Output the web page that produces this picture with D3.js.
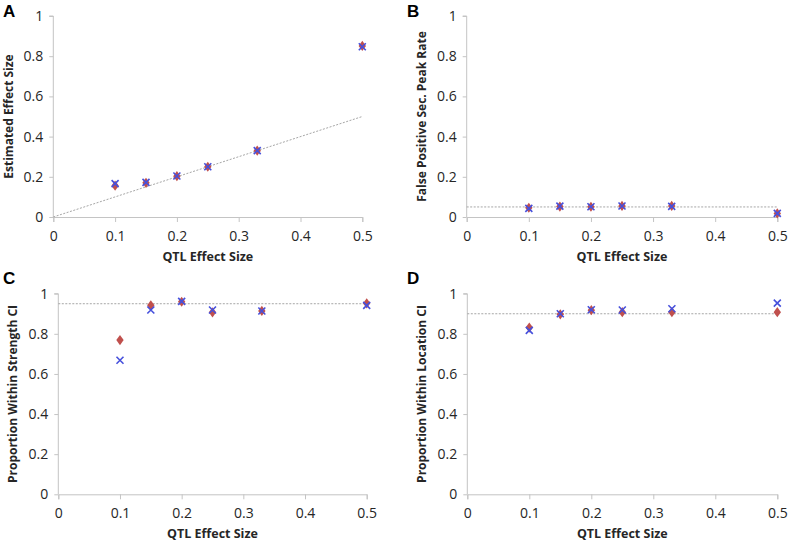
<!DOCTYPE html>
<html><head><meta charset="utf-8">
<script src="https://cdn.jsdelivr.net/npm/d3@7/dist/d3.min.js"></script>
<style>body{margin:0;background:#fff}svg{display:block}</style>
</head><body><svg id="c" width="788" height="542"></svg>
<script>
const qtl = [0.1, 0.15, 0.2, 0.25, 0.33, 0.5];
const xTicks = [0, 0.1, 0.2, 0.3, 0.4, 0.5];
const yTicks = [0, 0.2, 0.4, 0.6, 0.8, 1];
// Panel A: Estimated effect size
const estRed = [0.156, 0.170, 0.203, 0.250, 0.330, 0.851];
const estBlue = [0.166, 0.172, 0.204, 0.250, 0.330, 0.847];
// Panel B: false positive secondary peak rate
const fpRed = [0.046, 0.052, 0.051, 0.055, 0.055, 0.018];
const fpBlue = [0.043, 0.054, 0.051, 0.055, 0.053, 0.018];
// Panel C: proportion within strength CI
const strRed = [0.769, 0.942, 0.960, 0.907, 0.914, 0.952];
const strBlue = [0.668, 0.919, 0.962, 0.919, 0.914, 0.942];
// Panel D: proportion within location CI
const locRed = [0.831, 0.897, 0.918, 0.908, 0.908, 0.908];
const locBlue = [0.817, 0.900, 0.920, 0.919, 0.925, 0.953];

const panels = [
  {letter:"A", ytitle:"Estimated Effect Size", red:estRed, blue:estBlue, ref:"diag",
   l:53.3, r:362.3, t:16, b:217, lx:3, ly:17, tx:9},
  {letter:"B", ytitle:"False Positive Sec. Peak Rate", red:fpRed, blue:fpBlue, ref:0.05,
   l:466.7, r:777.3, t:16, b:217, lx:407, ly:17, tx:422},
  {letter:"C", ytitle:"Proportion Within Strength CI", red:strRed, blue:strBlue, ref:0.95,
   l:58.3, r:366.7, t:293.7, b:494.3, lx:3, ly:284, tx:13},
  {letter:"D", ytitle:"Proportion Within Location CI", red:locRed, blue:locBlue, ref:0.9,
   l:467.3, r:777.3, t:293.7, b:494.3, lx:407, ly:284, tx:422}
];

const svg = d3.select("#c");
const font = "'Open Sans', sans-serif";
const axisCol = "#c4c4c4";
const redCol = "#c0504d";
const blueCol = "#4650dc";

panels.forEach(p => {
  const x = d3.scaleLinear().domain([0, 0.5]).range([p.l, p.r]);
  const y = d3.scaleLinear().domain([0, 1]).range([p.b, p.t]);
  const g = svg.append("g");

  const ya = g.append("g").attr("transform", `translate(${p.l},0)`)
    .call(d3.axisLeft(y).tickValues(yTicks).tickSize(4).tickPadding(6).tickFormat(d => d3.format("")(d)));
  const xa = g.append("g").attr("transform", `translate(0,${p.b})`)
    .call(d3.axisBottom(x).tickValues(xTicks).tickSize(5).tickPadding(9).tickFormat(d => d3.format("")(d)));
  [ya, xa].forEach(a => {
    a.select(".domain").attr("stroke", axisCol);
    a.selectAll(".tick line").attr("stroke", axisCol);
    a.selectAll(".tick text").attr("fill", "#262626").attr("font-family", font).attr("font-size", 14);
  });
  ya.select(".domain").attr("d", `M-4,${p.t}H0V${p.b}`);

  const refY0 = p.ref === "diag" ? 0 : p.ref;
  const refY1 = p.ref === "diag" ? 0.5 : p.ref;
  g.append("line").attr("x1", x(0)).attr("y1", y(refY0)).attr("x2", x(0.5)).attr("y2", y(refY1))
    .attr("stroke", "#a6a6a6").attr("stroke-dasharray", "2,1.5").attr("stroke-width", 1);

  g.selectAll(".dia").data(qtl.map((q, i) => [q, p.red[i]])).enter().append("path")
    .attr("d", d3.symbol(d3.symbolDiamond, 30)())
    .attr("transform", d => `translate(${x(d[0])},${y(d[1])}) scale(1.25,1)`)
    .attr("fill", redCol);
  g.selectAll(".crs").data(qtl.map((q, i) => [q, p.blue[i]])).enter().append("path")
    .attr("d", "M-3.5,-3.5L3.5,3.5M-3.5,3.5L3.5,-3.5")
    .attr("transform", d => `translate(${x(d[0])},${y(d[1])})`)
    .attr("stroke", blueCol).attr("stroke-width", 1.6).attr("fill", "none");

  g.append("text").attr("x", (p.l + p.r) / 2).attr("y", p.b + 44)
    .attr("text-anchor", "middle").attr("font-family", font).attr("font-weight", "bold")
    .attr("font-size", 12.5).attr("fill", "#262626").text("QTL Effect Size");
  g.append("text").attr("transform", `translate(${p.tx + 4},${(p.t + p.b) / 2}) rotate(-90)`)
    .attr("text-anchor", "middle").attr("font-family", font).attr("font-weight", "bold")
    .attr("font-size", 12).attr("fill", "#262626").text(p.ytitle);
  g.append("text").attr("x", p.lx).attr("y", p.ly)
    .attr("font-family", "'Liberation Sans', Arial, sans-serif").attr("font-weight", "bold")
    .attr("font-size", 17).attr("fill", "#000").text(p.letter);
});
</script></body></html>
